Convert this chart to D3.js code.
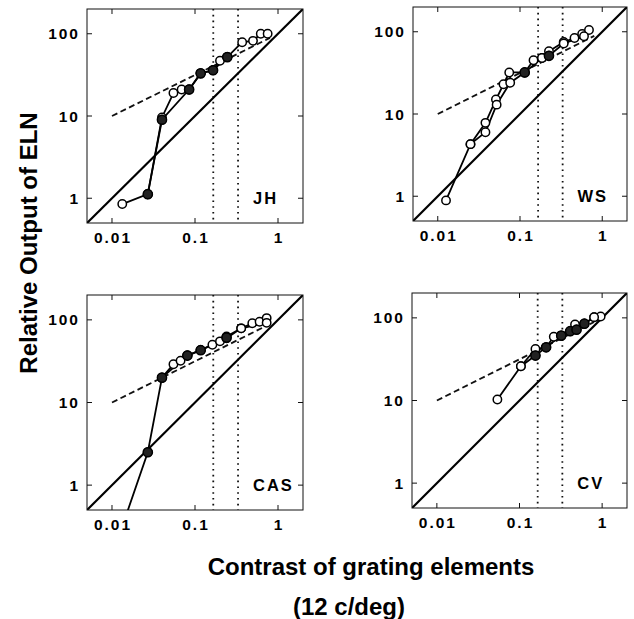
<!DOCTYPE html>
<html><head><meta charset="utf-8">
<script src="https://cdn.jsdelivr.net/npm/d3@7"></script>
<style>body{margin:0;background:#fff}</style>
</head><body>
<svg id="c" width="634" height="619"></svg>
<script>
// ---- data ----
const subjects = ["JH", "WS", "CAS", "CV"];
const xTickValues = [0.01, 0.1, 1];
const xTickLabels = ["0.01", "0.1", "1"];
const yTickValues = [1, 10, 100];
const yTickLabels = ["1", "10", "100"];
const xDomain = [0.005, 2];
const yDomain = [0.5, 200];
const criterionContrasts = [0.166, 0.33];
const identityLine = [[0.005, 0.5], [2, 200]];
const dashedLine = [[0.01, 10], [0.8, 89]];

const jhSeriesA = [[0.0133,0.85],[0.027,1.12],[0.040,9.6],[0.055,19],[0.069,21],[0.085,21],[0.117,33],[0.165,36],[0.2,47],[0.245,52],[0.37,79],[0.5,82],[0.62,100],[0.75,100]];
const jhSeriesB = [[0.027,1.12],[0.040,9],[0.085,21],[0.117,33],[0.165,36],[0.245,52]];
const jhFilled  = [[0.027,1.12],[0.040,9],[0.085,21],[0.117,33],[0.165,36],[0.245,52]];

const wsSeriesA = [[0.0126,0.89],[0.025,4.3],[0.038,7.8],[0.051,15],[0.063,23],[0.074,32],[0.114,32],[0.146,45],[0.185,48],[0.225,58],[0.34,75],[0.46,84],[0.57,94],[0.69,105]];
const wsSeriesB = [[0.025,4.3],[0.038,6.0],[0.052,13],[0.076,24],[0.114,32],[0.185,48],[0.225,51],[0.34,72],[0.6,88]];
const wsFilled  = [[0.114,32],[0.225,51]];

const casSeriesA = [[0.040,20],[0.055,29],[0.067,32],[0.081,37],[0.117,43],[0.162,50],[0.2,55],[0.24,63],[0.36,79],[0.49,91],[0.6,95],[0.73,105]];
const casSeriesB = [[0.0135,0.33],[0.027,2.5],[0.040,20],[0.081,37],[0.117,43],[0.24,60],[0.36,79],[0.73,92]];
const casFilled  = [[0.027,2.5],[0.040,20],[0.081,37],[0.117,43],[0.24,61]];

const cvSeriesA = [[0.054,10.3],[0.104,26],[0.156,42],[0.21,44],[0.26,59],[0.32,61],[0.47,83],[0.61,85],[0.8,102],[0.96,104]];
const cvSeriesB = [[0.104,26],[0.156,35],[0.21,44],[0.32,61],[0.41,69],[0.49,72],[0.61,85],[0.8,102]];
const cvFilled  = [[0.156,35],[0.21,44],[0.32,61],[0.41,69],[0.49,72],[0.61,85]];

const subjectLabelPos = [0.5, 1];

const panelData = [
  {name: subjects[0], a: jhSeriesA, b: jhSeriesB, filled: jhFilled},
  {name: subjects[1], a: wsSeriesA, b: wsSeriesB, filled: wsFilled},
  {name: subjects[2], a: casSeriesA, b: casSeriesB, filled: casFilled},
  {name: subjects[3], a: cvSeriesA, b: cvSeriesB, filled: cvFilled}
];

// ---- layout ----
const boxes = [
  {x: 87, y: 9, w: 216, h: 214},
  {x: 413, y: 7, w: 214, h: 214},
  {x: 87, y: 295, w: 216, h: 215},
  {x: 412, y: 293, w: 215, h: 215}
];

const svg = d3.select("#c");
const font = "'Liberation Sans', Arial, Helvetica, sans-serif";

panelData.forEach((p, i) => {
  const b = boxes[i];
  const x = d3.scaleLog().domain(xDomain).range([0, b.w]);
  const y = d3.scaleLog().domain(yDomain).range([b.h, 0]);
  const g = svg.append("g").attr("transform", `translate(${b.x},${b.y})`);
  const clipId = "clip" + i;
  g.append("clipPath").attr("id", clipId).append("rect").attr("width", b.w).attr("height", b.h);
  const plot = g.append("g").attr("clip-path", `url(#${clipId})`);
  const line = d3.line().x(d => x(d[0])).y(d => y(d[1]));

  // dotted criterion lines
  criterionContrasts.forEach(c => {
    plot.append("line").attr("x1", x(c)).attr("x2", x(c)).attr("y1", 0).attr("y2", b.h)
      .attr("stroke", "#111").attr("stroke-width", 1.8).attr("stroke-dasharray", "1.6,4.2");
  });
  // identity
  plot.append("path").attr("d", line(identityLine)).attr("fill", "none")
    .attr("stroke", "#000").attr("stroke-width", 2.2);
  // dashed
  plot.append("path").attr("d", line(dashedLine)).attr("fill", "none")
    .attr("stroke", "#111").attr("stroke-width", 1.8).attr("stroke-dasharray", "6,3.5");
  // data lines
  [p.b, p.a].forEach(s => {
    plot.append("path").attr("d", line(s)).attr("fill", "none")
      .attr("stroke", "#000").attr("stroke-width", 1.8);
  });
  // open markers
  plot.selectAll(null).data(p.a.concat(p.b)).enter().append("circle")
    .attr("cx", d => x(d[0])).attr("cy", d => y(d[1])).attr("r", 4.2)
    .attr("fill", "#fff").attr("stroke", "#000").attr("stroke-width", 1.5);
  // filled markers
  plot.selectAll(null).data(p.filled).enter().append("circle")
    .attr("cx", d => x(d[0])).attr("cy", d => y(d[1])).attr("r", 4.6)
    .attr("fill", "#222").attr("stroke", "#000").attr("stroke-width", 1.5);

  // frame
  g.append("rect").attr("width", b.w).attr("height", b.h).attr("fill", "none")
    .attr("stroke", "#111").attr("stroke-width", 1);

  // ticks (inward, all sides)
  const tl = 5;
  xTickValues.forEach(v => {
    g.append("line").attr("x1", x(v)).attr("x2", x(v)).attr("y1", b.h).attr("y2", b.h - tl).attr("stroke", "#111");
    g.append("line").attr("x1", x(v)).attr("x2", x(v)).attr("y1", 0).attr("y2", tl).attr("stroke", "#111");
  });
  yTickValues.forEach(v => {
    g.append("line").attr("y1", y(v)).attr("y2", y(v)).attr("x1", 0).attr("x2", tl).attr("stroke", "#111");
    g.append("line").attr("y1", y(v)).attr("y2", y(v)).attr("x1", b.w).attr("x2", b.w - tl).attr("stroke", "#111");
  });
  // tick labels
  const ls = 2;
  xTickValues.forEach((v, k) => {
    g.append("text").attr("x", x(v) + ls / 2).attr("y", b.h + 20)
      .attr("text-anchor", "middle").attr("font-family", font).attr("font-weight", "bold")
      .attr("font-size", 15.5).attr("letter-spacing", ls).attr("fill", "#000").text(xTickLabels[k]);
  });
  yTickValues.forEach((v, k) => {
    g.append("text").attr("x", -9 + ls).attr("y", y(v)).attr("dy", "0.36em")
      .attr("text-anchor", "end").attr("font-family", font).attr("font-weight", "bold")
      .attr("font-size", 15.5).attr("letter-spacing", ls).attr("fill", "#000").text(yTickLabels[k]);
  });
  // subject label
  g.append("text").attr("x", x(subjectLabelPos[0])).attr("y", y(subjectLabelPos[1])).attr("dy", "0.36em")
    .attr("font-family", font).attr("font-weight", "bold").attr("font-size", 16.5)
    .attr("letter-spacing", 2).attr("fill", "#000").text(p.name);
});

// axis titles
svg.append("text").attr("transform", "translate(28,243) rotate(-90)").attr("dy", "0.36em")
  .attr("text-anchor", "middle").attr("font-family", font).attr("font-weight", "bold")
  .attr("font-size", 24).attr("fill", "#000").text("Relative Output of ELN");
svg.append("text").attr("x", 371).attr("y", 566).attr("dy", "0.36em")
  .attr("text-anchor", "middle").attr("font-family", font).attr("font-weight", "bold")
  .attr("font-size", 24).attr("fill", "#000").text("Contrast of grating elements");
svg.append("text").attr("x", 349).attr("y", 606).attr("dy", "0.36em")
  .attr("text-anchor", "middle").attr("font-family", font).attr("font-weight", "bold")
  .attr("font-size", 24).attr("fill", "#000").text("(12 c/deg)");
</script>
</body></html>
